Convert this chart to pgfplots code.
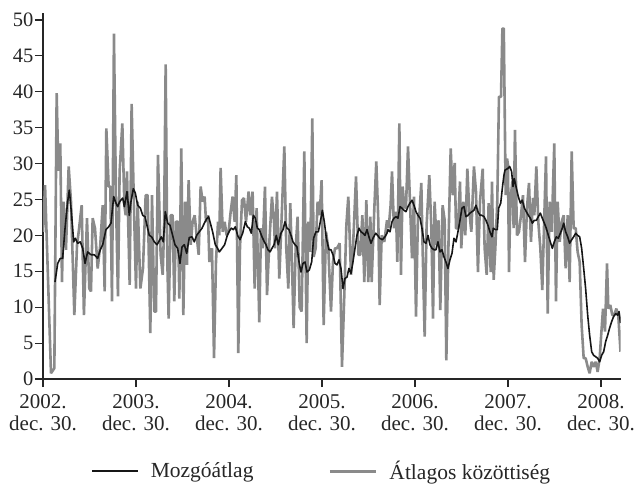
\documentclass[border=0pt]{standalone}
\usepackage{fontspec}
\setmainfont{Liberation Serif}
\usepackage{pgfplots}
\pgfplotsset{compat=1.18}
\definecolor{sgray}{RGB}{138,138,138}
\definecolor{sblack}{RGB}{22,22,22}
\begin{document}
\begin{tikzpicture}
\path[use as bounding box] (-43pt,-106pt) rectangle (592pt,379pt);
\begin{axis}[
 at={(0pt,0pt)}, anchor=south west,
 scale only axis, width=577.5pt, height=366.2pt,
 xmin=0, xmax=6.21, ymin=0, ymax=51,
 axis x line*=bottom, axis y line*=left,
 axis line style={line width=1.1pt, color=black!85},
 tick align=outside, major tick length=8pt,
 every tick/.style={line width=1.1pt, color=black!85},
 xtick={0,1,2,3,4,5,6}, ytick={0,5,...,50},
 xticklabels={{2002.\\dec. 30.},{2003.\\dec. 30.},{2004.\\dec. 30.},{2005.\\dec. 30.},{2006.\\dec. 30.},{2007.\\dec. 30.},{2008.\\dec. 30.}},
 x tick label style={align=center, font=\fontsize{21}{21.5}\selectfont, color=black!85, yshift=-4pt},
 y tick label style={font=\fontsize{20.5}{24}\selectfont, color=black!85, xshift=2pt},
 /pgf/number format/assume math mode=true,
 legend style={draw=none, fill=none, inner sep=0pt, at={(0,0)}, anchor=west,
   xshift=48pt, yshift=-92pt,
   font=\fontsize{21.5}{24}\selectfont, text=black!85,
   /tikz/every odd column/.append style={column sep=10pt},
   /tikz/every even column/.append style={column sep=73pt}},
 legend columns=2, legend cell align=left,
 legend image code/.code={\draw[#1] (0pt,0pt) -- (46pt,0pt);},
]
\addlegendimage{sblack, line width=1.6pt}
\addlegendentry{Mozgóátlag}
\addlegendimage{sgray, line width=3pt}
\addlegendentry{Átlagos közöttiség}

\addplot[sgray, line width=2.6pt, line join=bevel, forget plot] table {
0.000 20.5
0.022 27.0
0.086 0.8
0.122 1.5
0.147 39.8
0.165 29.0
0.186 32.8
0.204 13.5
0.222 24.7
0.247 18.0
0.276 29.6
0.301 24.7
0.337 8.9
0.366 18.7
0.384 20.5
0.416 24.2
0.440 8.9
0.473 22.4
0.498 12.6
0.516 12.2
0.534 22.4
0.559 21.0
0.588 15.4
0.616 18.7
0.642 24.2
0.663 12.2
0.681 34.9
0.706 26.8
0.724 26.8
0.742 10.8
0.763 48.1
0.785 24.7
0.806 11.5
0.824 28.9
0.853 35.6
0.875 24.2
0.889 22.8
0.903 28.9
0.932 13.1
0.953 38.3
0.982 21.9
1.000 12.6
1.018 24.7
1.047 12.6
1.075 15.4
1.104 25.6
1.125 25.6
1.154 6.4
1.172 25.6
1.197 9.4
1.215 9.4
1.236 31.2
1.265 17.3
1.287 14.5
1.301 20.5
1.319 43.8
1.337 16.3
1.351 8.4
1.373 22.8
1.394 22.8
1.412 10.8
1.430 21.9
1.452 21.9
1.466 11.2
1.487 32.1
1.509 8.9
1.530 24.7
1.548 15.9
1.566 27.7
1.588 18.7
1.609 21.9
1.631 22.8
1.652 20.0
1.674 17.3
1.695 26.8
1.717 24.7
1.738 25.4
1.753 21.9
1.774 22.8
1.789 16.3
1.817 18.2
1.839 2.9
1.860 16.3
1.882 21.9
1.896 20.0
1.910 29.4
1.932 20.5
1.953 21.9
1.975 20.0
1.996 20.5
2.018 23.3
2.039 25.4
2.061 21.9
2.079 28.4
2.100 3.6
2.118 18.2
2.140 24.9
2.161 25.2
2.183 21.9
2.211 26.1
2.229 22.8
2.254 26.1
2.276 12.6
2.297 23.8
2.326 7.9
2.344 21.0
2.362 18.2
2.387 26.8
2.409 11.7
2.434 19.1
2.462 25.4
2.484 21.9
2.495 18.2
2.516 26.1
2.541 14.0
2.566 22.4
2.595 32.4
2.616 18.2
2.638 12.6
2.659 24.5
2.677 16.3
2.695 7.1
2.717 18.2
2.738 22.6
2.760 10.0
2.781 9.4
2.810 31.7
2.835 5.0
2.853 21.9
2.874 17.7
2.896 36.3
2.910 17.0
2.932 18.2
2.953 24.7
2.975 22.8
2.996 27.7
3.018 7.5
3.043 20.5
3.068 18.2
3.097 9.4
3.118 16.3
3.140 18.2
3.161 18.2
3.190 18.9
3.215 1.7
3.240 11.7
3.262 21.4
3.283 25.4
3.312 14.5
3.333 18.2
3.366 28.2
3.391 17.3
3.412 17.3
3.434 22.8
3.455 13.5
3.477 24.9
3.498 13.5
3.520 22.6
3.534 13.5
3.563 23.8
3.584 30.3
3.606 21.9
3.620 10.3
3.642 20.0
3.670 19.1
3.699 22.1
3.717 21.0
3.738 24.2
3.753 28.9
3.774 21.0
3.796 23.3
3.810 16.3
3.832 35.6
3.849 14.5
3.867 26.8
3.885 24.0
3.903 23.8
3.925 32.4
3.946 24.7
3.968 16.8
3.989 25.4
4.011 8.7
4.032 22.8
4.047 22.8
4.068 27.3
4.082 18.2
4.104 5.9
4.125 21.4
4.154 28.4
4.176 21.0
4.194 8.4
4.211 24.7
4.233 18.7
4.254 22.1
4.272 9.6
4.297 24.2
4.319 22.1
4.337 2.6
4.362 20.0
4.384 32.1
4.405 25.6
4.427 30.1
4.441 21.0
4.462 21.0
4.484 27.5
4.498 18.2
4.520 24.7
4.541 20.0
4.563 29.3
4.584 23.3
4.606 20.5
4.634 29.6
4.656 26.1
4.677 14.9
4.699 24.7
4.728 29.3
4.749 18.2
4.771 14.5
4.792 24.5
4.814 14.9
4.828 27.5
4.846 13.8
4.864 18.2
4.885 24.7
4.903 39.3
4.925 39.3
4.940 48.8
4.955 48.8
4.975 25.6
4.990 30.7
5.000 29.8
5.011 14.9
5.025 24.7
5.047 27.5
5.061 21.0
5.075 34.7
5.097 20.0
5.118 20.5
5.140 22.8
5.161 25.6
5.183 16.3
5.204 23.8
5.226 27.3
5.247 19.1
5.269 25.2
5.283 22.8
5.305 29.6
5.326 21.9
5.348 18.2
5.369 12.4
5.391 22.8
5.409 31.0
5.427 9.1
5.448 24.7
5.470 20.5
5.498 32.8
5.516 10.8
5.534 24.7
5.556 19.1
5.577 21.9
5.599 22.8
5.620 15.4
5.642 22.8
5.663 13.5
5.685 31.7
5.706 21.0
5.728 21.0
5.749 17.7
5.771 16.3
5.792 7.5
5.814 2.9
5.835 2.9
5.857 1.7
5.878 0.8
5.900 2.4
5.921 1.7
5.943 2.4
5.964 1.0
5.986 2.9
6.000 5.7
6.022 9.8
6.043 6.6
6.065 16.1
6.079 9.8
6.100 10.3
6.122 8.9
6.143 8.9
6.165 9.8
6.186 8.9
6.210 3.8
};

\addplot[sblack, line width=1.6pt, line join=round, forget plot] table {
0.129 13.5
0.158 16.1
0.186 16.8
0.211 16.8
0.237 21.0
0.265 24.7
0.283 26.3
0.308 22.8
0.330 19.1
0.348 19.6
0.373 18.9
0.401 19.1
0.427 18.2
0.452 16.1
0.480 17.7
0.516 17.3
0.552 17.3
0.588 16.8
0.616 18.0
0.642 18.7
0.677 20.8
0.706 21.2
0.731 21.7
0.760 25.4
0.785 24.5
0.803 24.0
0.824 24.7
0.857 25.2
0.875 24.0
0.903 26.1
0.928 22.8
0.946 24.7
0.971 26.5
0.993 25.9
1.018 24.2
1.047 23.8
1.072 22.8
1.097 22.6
1.118 21.4
1.143 20.0
1.168 19.8
1.197 19.1
1.226 18.7
1.244 19.1
1.272 19.8
1.294 19.1
1.315 23.3
1.341 21.7
1.366 21.4
1.394 20.0
1.419 18.7
1.448 18.2
1.473 16.1
1.495 18.4
1.520 18.7
1.545 17.5
1.573 19.7
1.602 19.8
1.627 19.1
1.652 20.0
1.681 20.5
1.710 21.0
1.735 21.7
1.760 22.3
1.781 22.6
1.806 21.4
1.824 20.5
1.853 18.7
1.878 18.2
1.896 17.7
1.925 18.2
1.953 18.7
1.982 20.0
2.004 20.6
2.025 21.0
2.047 20.8
2.068 21.2
2.093 20.0
2.118 19.4
2.147 20.3
2.176 21.9
2.197 21.2
2.219 21.0
2.240 20.3
2.262 22.8
2.283 22.4
2.305 21.0
2.326 20.8
2.355 19.8
2.380 19.1
2.398 18.7
2.419 18.0
2.441 17.7
2.462 18.2
2.484 18.7
2.509 20.0
2.530 18.7
2.559 20.3
2.581 20.8
2.602 21.9
2.624 21.0
2.645 20.8
2.667 20.0
2.688 19.1
2.710 18.7
2.731 18.4
2.753 16.3
2.774 14.9
2.796 16.1
2.817 16.3
2.839 14.9
2.864 15.2
2.889 16.3
2.910 19.6
2.935 20.5
2.961 20.5
2.982 21.9
3.004 23.5
3.025 21.9
3.047 19.6
3.075 18.0
3.097 18.0
3.118 17.3
3.140 16.1
3.161 15.9
3.183 16.6
3.204 15.4
3.226 12.6
3.247 14.0
3.269 14.2
3.290 15.4
3.312 14.7
3.333 16.3
3.355 18.2
3.376 20.0
3.398 21.0
3.419 20.5
3.441 20.3
3.462 20.0
3.484 20.8
3.505 19.8
3.527 18.9
3.548 19.6
3.577 20.3
3.599 20.0
3.620 19.6
3.649 19.4
3.677 19.8
3.699 20.3
3.710 20.8
3.731 20.5
3.753 21.9
3.774 22.4
3.796 22.6
3.817 22.4
3.839 24.0
3.860 23.8
3.882 23.5
3.903 23.3
3.925 24.0
3.946 24.5
3.968 24.9
3.989 24.2
4.011 23.3
4.032 22.8
4.054 22.4
4.075 21.0
4.097 19.1
4.118 18.9
4.140 20.0
4.161 18.7
4.183 18.2
4.204 18.0
4.226 18.0
4.247 19.1
4.269 17.7
4.290 18.0
4.312 17.0
4.333 16.3
4.355 15.4
4.376 16.6
4.398 17.5
4.419 19.6
4.441 19.1
4.462 20.5
4.484 22.1
4.505 23.8
4.527 24.0
4.548 22.6
4.570 22.8
4.591 23.1
4.613 23.3
4.634 23.5
4.656 24.2
4.677 23.3
4.699 22.8
4.720 22.8
4.742 22.6
4.763 22.1
4.785 21.4
4.806 20.5
4.828 19.8
4.842 21.0
4.864 20.8
4.885 20.8
4.900 23.8
4.922 24.5
4.943 27.0
4.957 28.4
4.968 29.1
4.997 29.3
5.018 29.6
5.039 28.9
5.054 26.8
5.068 27.9
5.090 26.6
5.111 25.4
5.133 24.5
5.154 24.9
5.176 23.8
5.197 23.3
5.219 22.8
5.240 22.4
5.262 21.7
5.283 22.1
5.305 22.1
5.326 22.6
5.348 23.1
5.369 22.4
5.391 21.7
5.412 21.0
5.434 20.0
5.455 19.1
5.477 18.2
5.498 19.1
5.520 19.8
5.541 19.6
5.563 20.3
5.584 21.0
5.599 21.7
5.620 20.5
5.642 19.8
5.663 18.9
5.685 19.4
5.706 19.8
5.728 20.3
5.749 20.0
5.771 19.8
5.792 18.2
5.814 15.4
5.835 12.6
5.857 8.9
5.878 6.1
5.900 3.8
5.921 3.3
5.943 3.1
5.964 2.9
5.986 2.4
6.007 3.3
6.029 3.8
6.050 5.2
6.072 6.1
6.093 7.1
6.115 8.0
6.136 8.7
6.158 9.1
6.179 8.9
6.194 9.4
6.210 7.8
};
\end{axis}
\end{tikzpicture}
\end{document}
